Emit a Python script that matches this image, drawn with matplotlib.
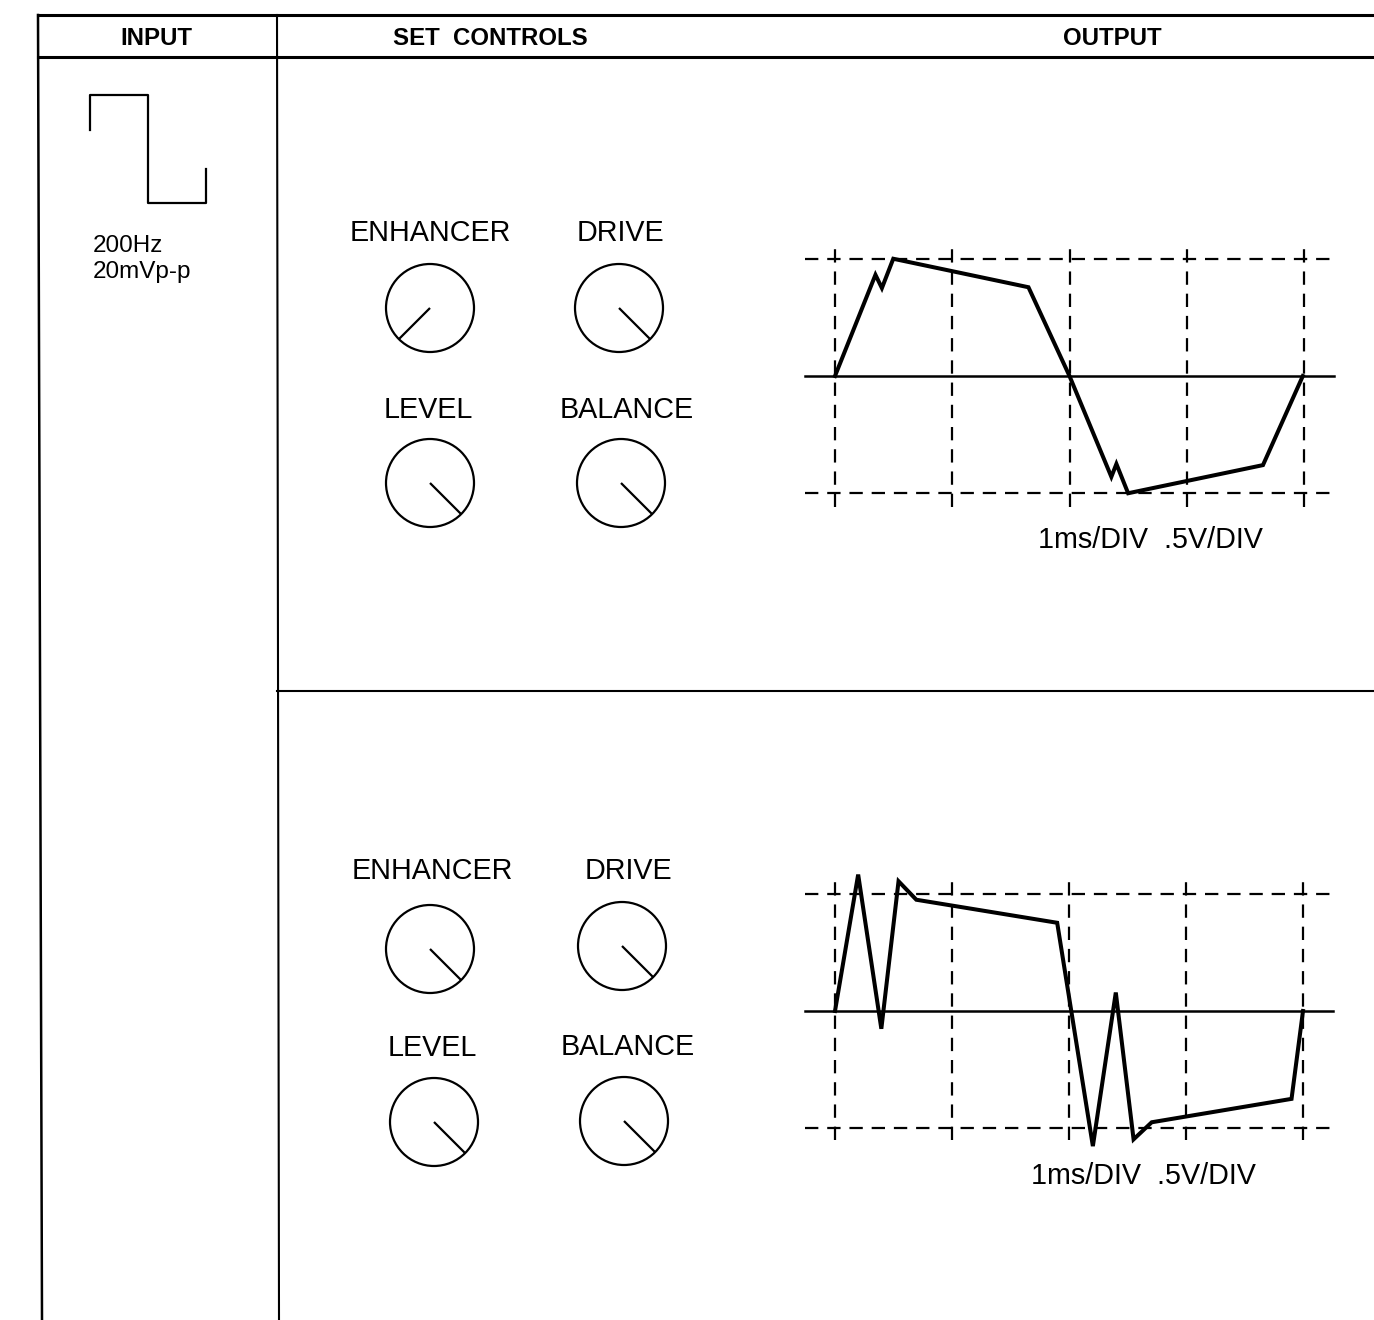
import numpy as np
import matplotlib
matplotlib.use('Agg')
import matplotlib.pyplot as plt
from matplotlib.patches import Circle

W, H = 1374, 1320

# ---- data ----
headers = ['INPUT', 'SET  CONTROLS', 'OUTPUT']
input_labels = ['200Hz', '20mVp-p']
# input square wave (arbitrary units: time, level)
sq_t = [0, 0, 1, 1, 2, 2]
sq_v = [0.35, 1, 1, -1, -1, -0.37]

knob_names = ['ENHANCER', 'DRIVE', 'LEVEL', 'BALANCE']
# pointer angle in degrees (0 = 3 o'clock, counter-clockwise)
knobs_1 = [225, -45, -45, -45]
knobs_2 = [-45, -45, -45, -45]

scope_label = '1ms/DIV  .5V/DIV'
# waveforms: time in divisions, voltage in divisions
wave1_t = [0, 0.345, 0.40, 0.497, 1.65, 2.0, 2.357, 2.40, 2.5, 3.65, 3.99]
wave1_v = [0, 0.863, 0.75, 1.0, 0.757, 0, -0.86, -0.75, -1.0, -0.76, 0]
wave2_t = [0, 0.198, 0.396, 0.543, 0.695, 1.899, 2.204, 2.40, 2.552, 2.707, 3.902, 4.0]
wave2_v = [0, 1.166, -0.152, 1.109, 0.951, 0.754, -1.155, 0.158, -1.097, -0.951, -0.751, 0]

plt.rcParams['font.family'] = ['Liberation Sans', 'DejaVu Sans']

fig = plt.figure(figsize=(W / 100, H / 100), dpi=100)
ax = fig.add_axes([0, 0, 1, 1])
ax.set_xlim(0, W)
ax.set_ylim(H, 0)
ax.axis('off')

# table frame
ax.plot([38, W], [15, 15], color='black', lw=2.2)
ax.plot([38, W], [57, 57], color='black', lw=2.2)
ax.plot([38, 42], [15, H], color='black', lw=1.8)
ax.plot([277, 279], [15, H], color='black', lw=1.5)
ax.plot([277, W], [691, 691], color='black', lw=1.5)

for txt, x in zip(headers, [156, 490, 1112]):
    ax.text(x, 45, txt, ha='center', va='baseline', weight='bold', fontsize=17.3)

# input square wave
sx = np.array(sq_t) * 58 + 90
sy = 149 - np.array(sq_v) * 54
ax.plot(sx, sy, color='black', lw=1.6)
ax.text(93, 252, input_labels[0], fontsize=17.5, va='baseline')
ax.text(93, 278, input_labels[1], fontsize=17.5, va='baseline')


def knob_panel(angles, centers, label_pos):
    for name, ang, (cx, cy), (lx, ly) in zip(knob_names, angles, centers, label_pos):
        ax.add_patch(Circle((cx, cy), 44, fill=False, ec='black', lw=1.6))
        a = np.deg2rad(ang)
        ax.plot([cx, cx + 44 * np.cos(a)], [cy, cy - 44 * np.sin(a)],
                color='black', lw=1.6, solid_capstyle='butt')
        ax.text(lx, ly, name, ha='center', va='baseline', fontsize=20.7)


knob_panel(knobs_1,
           [(430, 308), (619, 308), (430, 483), (621, 483)],
           [(430, 241), (620, 241), (428, 418), (627, 418)])
knob_panel(knobs_2,
           [(430, 949), (622, 946), (434, 1122), (624, 1121)],
           [(432, 879), (628, 879), (432, 1056), (628, 1055)])


def scope(x0, y0, s, t, v, vext, label_xy):
    xl = (-0.3, 4.3)
    yl = (-1.3, 1.3)
    left = x0 + xl[0] * s
    top = y0 - yl[1] * s
    sa = fig.add_axes([left / W, 1 - (top + (yl[1] - yl[0]) * s) / H,
                       (xl[1] - xl[0]) * s / W, (yl[1] - yl[0]) * s / H])
    sa.set_xlim(*xl)
    sa.set_ylim(*yl)
    sa.axis('off')
    sa.patch.set_alpha(0)
    dash = dict(color='black', lw=1.6, dashes=(6, 4))
    for yy in (1, -1):
        sa.plot([-0.26, 4.26], [yy, yy], **dash)
    for xx in range(5):
        sa.plot([xx, xx], [-vext, vext], **dash)
    sa.plot([-0.26, 4.26], [0, 0], color='black', lw=1.8)
    sa.plot(t, v, color='black', lw=2.9, solid_joinstyle='miter')
    ax.text(label_xy[0], label_xy[1], scope_label, ha='left', va='baseline', fontsize=20.7)


scope(835, 376, 117.25, wave1_t, wave1_v, 1.12, (1038, 548))
scope(835, 1011, 117.0, wave2_t, wave2_v, 1.1, (1031, 1184))

fig.savefig('out.png', dpi=100)
